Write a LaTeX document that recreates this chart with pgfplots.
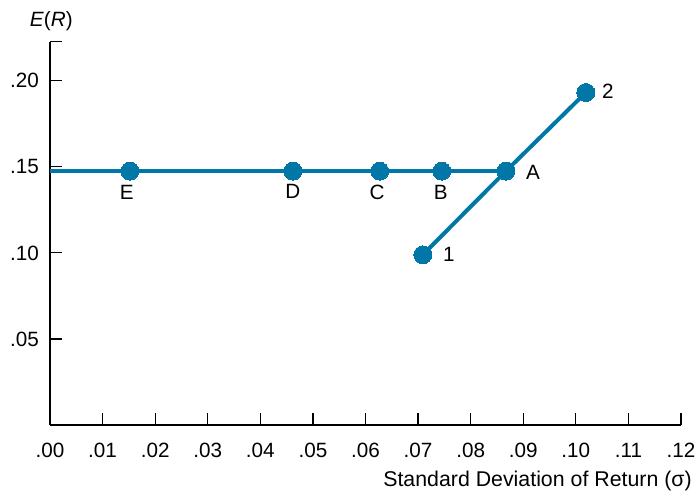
\documentclass[border=0pt]{standalone}
\usepackage{pgfplots}
\pgfplotsset{compat=1.18}
\usepackage{fontspec}
\setmainfont{Liberation Sans}
\definecolor{pblue}{RGB}{0,119,167}
\begin{document}
\fontsize{15.5}{18}\selectfont
\begin{tikzpicture}[x=1pt,y=1pt]
\useasboundingbox (-37.5,-50.25) rectangle (486,318.75);
\begin{axis}[
  at={(0,0)}, anchor=south west,
  scale only axis, width=473.25pt, height=287.6pt,
  xmin=0, xmax=0.12, ymin=0, ymax=0.2228,
  axis x line*=bottom, axis y line*=left,
  axis line style={line width=1pt, black, -},
  tick style={line width=0.9pt, black},
  major tick length=9pt, tick align=inside,
  xtick={0,0.01,0.02,0.03,0.04,0.05,0.06,0.07,0.08,0.09,0.10,0.11,0.12},
  xticklabels={.00,.01,.02,.03,.04,.05,.06,.07,.08,.09,.10,.11,.12},
  ytick={0.05,0.10,0.15,0.20,0.2228},
  yticklabels={.05,.10,.15,.20,},
  /pgf/number format/assume math mode=true,
  ticklabel style={font=\fontsize{15.5}{18}\selectfont},
  xticklabel style={yshift=-8pt},
  yticklabel style={xshift=-3pt},
  clip=false,
]
\addplot[pblue, line width=3pt, mark=*, mark size=6.75pt, mark options={fill=pblue, draw=pblue, line width=0pt}, mark indices={2,3,4,5,6}]
  coordinates {(0,0.1475) (0.0152,0.1475) (0.0462,0.1475) (0.0627,0.1475) (0.0745,0.1475) (0.0867,0.1475)};
\addplot[pblue, line width=3pt, mark=*, mark size=6.75pt, mark options={fill=pblue, draw=pblue, line width=0pt}, mark indices={1,3}]
  coordinates {(0.0709,0.0989) (0.0867,0.1475) (0.1019,0.1932)};
\begin{scope}[every node/.style={inner sep=0pt}]
\node[anchor=north] at (axis cs:0.0146,0.1475) [yshift=-10.5pt] {E};
\node[anchor=north] at (axis cs:0.0462,0.1475) [yshift=-10pt] {D};
\node[anchor=north] at (axis cs:0.0622,0.1475) [yshift=-10.5pt] {C};
\node[anchor=north] at (axis cs:0.0743,0.1475) [yshift=-10.5pt] {B};
\node[anchor=west] at (axis cs:0.0867,0.1475) [xshift=15pt,yshift=-0.75pt] {A};
\node[anchor=west] at (axis cs:0.0709,0.0989) [xshift=15pt] {1};
\node[anchor=west] at (axis cs:0.1019,0.1932) [xshift=12pt,yshift=1pt] {2};
\node[anchor=base] at (rel axis cs:0,1) [xshift=1pt,yshift=11.25pt] {\textit{E}(\textit{R})};
\node[anchor=base east] at (rel axis cs:1,0) [xshift=8.25pt,yshift=-45.75pt] {\fontsize{16}{18}\selectfont Standard Deviation of Return (σ)};
\end{scope}
\end{axis}
\end{tikzpicture}
\end{document}
